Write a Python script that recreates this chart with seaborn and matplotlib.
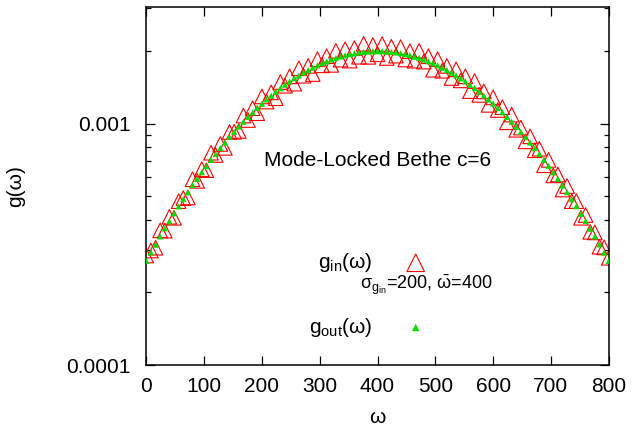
import matplotlib
matplotlib.use("Agg")
import matplotlib.pyplot as plt
import matplotlib.ticker as mticker
import seaborn as sns
import pandas as pd

# omega grid (bin centres)
omega = [0, 8, 16, 24, 32, 40, 48, 56, 64, 72, 80, 88, 96, 104, 112, 120, 128, 136, 144, 152,
         160, 168, 176, 184, 192, 200, 208, 216, 224, 232, 240, 248, 256, 264, 272, 280, 288, 296,
         304, 312, 320, 328, 336, 344, 352, 360, 368, 376, 384, 392, 400, 408, 416, 424, 432, 440,
         448, 456, 464, 472, 480, 488, 496, 504, 512, 520, 528, 536, 544, 552, 560, 568, 576, 584,
         592, 600, 608, 616, 624, 632, 640, 648, 656, 664, 672, 680, 688, 696, 704, 712, 720, 728,
         736, 744, 752, 760, 768, 776, 784, 792, 800]

# g_in(omega), in units of 1e-4
g_in_e4 = [2.84, 2.98, 3.06, 3.61, 3.60, 4.11, 4.07, 4.77, 4.91, 4.94, 5.88, 5.79, 6.47, 6.41,
           7.57, 7.41, 8.23, 7.93, 9.23, 9.25, 9.32, 10.79, 10.34, 11.58, 11.04, 12.95, 12.33,
           13.46, 12.73, 14.86, 14.34, 15.69, 14.63, 16.94, 15.77, 17.33, 16.03, 18.47, 17.42,
           19.01, 17.50, 20.01, 18.39, 20.33, 18.22, 20.53, 18.91, 21.39, 18.89, 21.13, 19.35,
           21.33, 18.69, 20.80, 19.11, 20.73, 18.41, 19.95, 18.20, 20.01, 18.05, 19.01, 16.71,
           18.47, 16.54, 17.33, 15.44, 16.78, 15.09, 15.69, 13.62, 15.00, 13.14, 13.59, 11.95,
           12.83, 11.38, 11.69, 10.12, 10.89, 9.42, 9.62, 8.44, 8.85, 7.75, 7.86, 6.72, 7.07,
           6.10, 6.15, 5.33, 5.51, 4.77, 4.77, 4.07, 4.18, 3.56, 3.54, 3.09, 3.07, 2.78]

# g_out(omega), in units of 1e-4
g_out_e4 = [2.70, 2.93, 3.15, 3.41, 3.68, 3.94, 4.25, 4.54, 4.87, 5.19, 5.56, 5.90, 6.29, 6.66,
            7.08, 7.48, 7.92, 8.34, 8.80, 9.24, 9.72, 10.17, 10.66, 11.12, 11.62, 12.09, 12.59,
            13.05, 13.55, 14.00, 14.49, 14.93, 15.40, 15.82, 16.26, 16.65, 17.06, 17.41, 17.78,
            18.10, 18.42, 18.69, 18.96, 19.17, 19.39, 19.54, 19.70, 19.80, 19.89, 19.93, 19.95,
            19.94, 19.88, 19.81, 19.69, 19.56, 19.38, 19.19, 18.95, 18.70, 18.41, 18.11, 17.77,
            17.43, 17.05, 16.67, 16.25, 15.84, 15.39, 14.95, 14.48, 14.03, 13.54, 13.07, 12.58,
            12.11, 11.61, 11.14, 10.65, 10.19, 9.70, 9.25, 8.79, 8.35, 7.91, 7.49, 7.07, 6.68,
            6.28, 5.91, 5.54, 5.20, 4.86, 4.55, 4.23, 3.95, 3.67, 3.41, 3.16, 2.92, 2.70]

df = pd.DataFrame({
    "omega": omega,
    "g_in": [v * 1e-4 for v in g_in_e4],
    "g_out": [v * 1e-4 for v in g_out_e4],
})

sns.set_theme(style="ticks")
plt.rcParams["font.family"] = ["Liberation Sans", "DejaVu Sans"]
plt.rcParams["mathtext.fontset"] = "custom"
plt.rcParams["mathtext.rm"] = "Liberation Sans"
plt.rcParams["mathtext.it"] = "Liberation Sans:italic"
plt.rcParams["mathtext.sf"] = "Liberation Sans"
plt.rcParams["text.color"] = "black"
plt.rcParams["axes.labelcolor"] = "black"

FS = 15

fig = plt.figure(figsize=(6.32, 4.28), dpi=100)
ax = fig.add_axes([146 / 632, 1 - 365 / 428, 463 / 632, (365 - 7.3) / 428])

sns.scatterplot(data=df, x="omega", y="g_in", ax=ax, marker="^", s=110,
                facecolor="none", edgecolor="#ff0000", linewidth=0.8,
                label=r"g$_{\mathregular{in}}$(ω)", zorder=2)
sns.scatterplot(data=df, x="omega", y="g_out", ax=ax, marker="^", s=20,
                color="#00dd00", edgecolor="none", linewidth=0,
                label=r"g$_{\mathregular{out}}$(ω)", zorder=3)

ax.set_yscale("log")
ax.set_xlim(-0.5, 800.5)
ax.set_ylim(1e-4, 3.03e-3)
ax.set_xticks([0, 100, 200, 300, 400, 500, 600, 700, 800])
ax.yaxis.set_major_locator(mticker.FixedLocator([1e-4, 1e-3]))
ax.yaxis.set_major_formatter(mticker.FuncFormatter(lambda v, p: f"{v:g}"))
ax.yaxis.set_minor_locator(mticker.LogLocator(base=10, subs=range(2, 10), numticks=20))
ax.yaxis.set_minor_formatter(mticker.NullFormatter())

ax.tick_params(axis="both", which="both", direction="in", top=True, right=True,
               labelsize=FS, color="black", labelcolor="black", width=0.9)
ax.tick_params(axis="both", which="major", length=6.5)
ax.tick_params(axis="x", which="major", pad=9)
ax.tick_params(axis="y", which="major", pad=11)
ax.tick_params(axis="y", which="minor", length=3.3)
for sp in ax.spines.values():
    sp.set_visible(True)
    sp.set_linewidth(1.1)
    sp.set_color("black")

ax.set_xlabel("ω", fontsize=FS, labelpad=8)
ax.set_ylabel("g(ω)", fontsize=FS, labelpad=30)

ax.text(0.501, 0.573, "Mode-Locked Bethe c=6", transform=ax.transAxes,
        ha="center", va="center", fontsize=FS)
ax.text(0.462, 0.225, r"$\mathregular{\sigma_{g_{in}}}$=200, $\bar{\mathregular{ω}}$=400",
        transform=ax.transAxes, ha="left", va="center", fontsize=13)

leg = ax.legend(loc="upper right", bbox_to_anchor=(0.605, 0.318), bbox_transform=ax.transAxes,
                markerfirst=False, frameon=False, fontsize=FS, handlelength=1.0,
                handletextpad=1.55, labelspacing=2.0, borderpad=0, borderaxespad=0,
                markerscale=1.2)

fig.savefig("out.png", dpi=100)
